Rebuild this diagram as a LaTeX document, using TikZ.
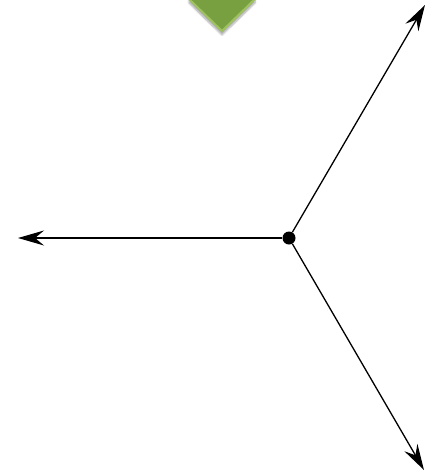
\documentclass[tikz,border=0pt]{standalone}
\usetikzlibrary{arrows.meta,shadows.blur}
\definecolor{leaf}{HTML}{78A040}
\definecolor{leafedge}{HTML}{9DC25E}
\tikzset{hub/.style={circle,fill=black,inner sep=0pt,minimum size=13pt},ray/.style={-{Stealth[length=26pt,width=15pt,inset=9pt]},line width=1.3pt},marker/.style={fill=leaf,draw=leafedge,line width=2pt,line join=miter,blur shadow={shadow xshift=0pt,shadow yshift=-4pt,shadow blur steps=8,shadow opacity=35}}}

\begin{document}
\begin{tikzpicture}[x=1pt,y=-1pt]
\useasboundingbox (0,0) rectangle (431,472);
\begin{scope}
\clip (0,0) rectangle (431,472);
\path[marker] (189,-10) -- (189,-1) -- (222,31) -- (255,-1) -- (255,-10) -- cycle;
\end{scope}
\node[hub] (o) at (289,238) {};
\coordinate (ne) at (425,5);\coordinate (w) at (18,238);\coordinate (se) at (424,470);
\draw[ray] (o) -- (ne);\draw[ray] (o) -- (w);\draw[ray] (o) -- (se);
\end{tikzpicture}
\end{document}
